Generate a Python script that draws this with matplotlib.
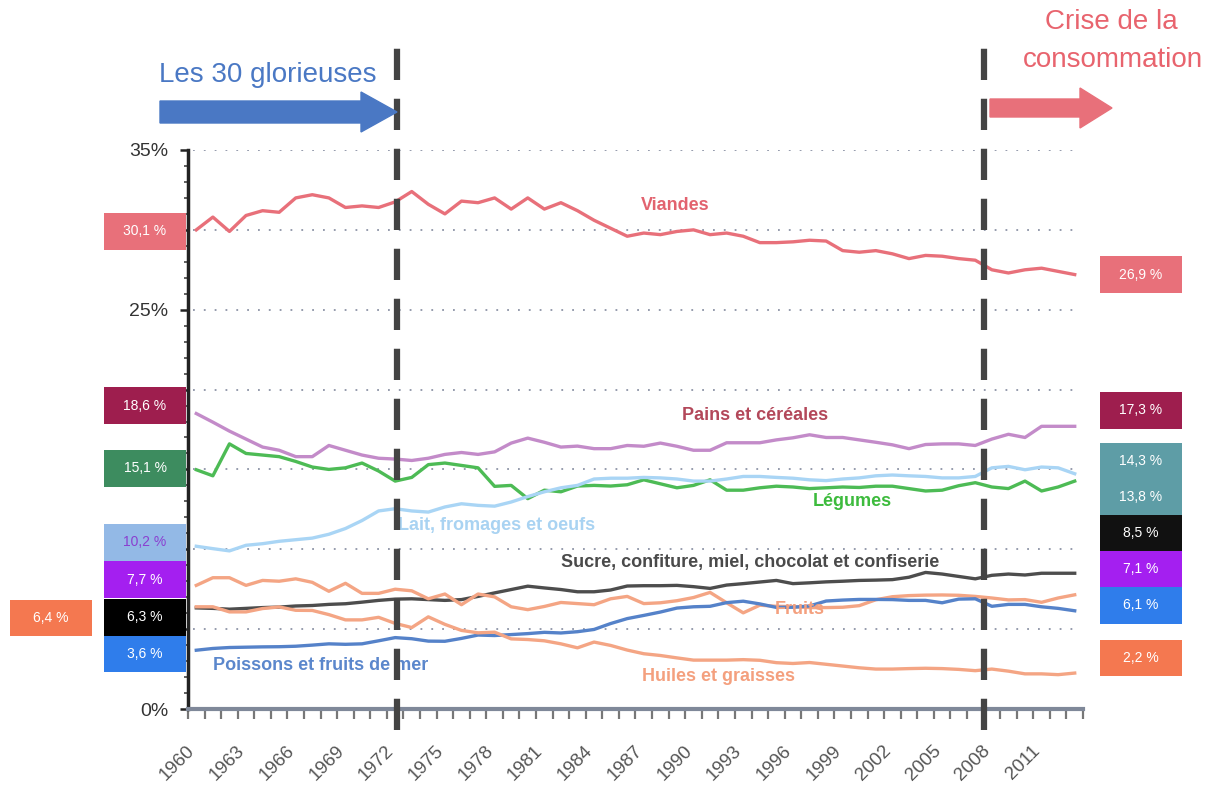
import numpy as np
import matplotlib
matplotlib.use('Agg')
import matplotlib.pyplot as plt
import matplotlib.transforms as mtransforms
from matplotlib.patches import Rectangle, FancyArrow

plt.rcParams['font.family'] = ['Liberation Sans', 'DejaVu Sans']

# --- data (share of food budget, %) ---
years = list(range(1960, 2014))

viandes = [30.0, 30.8, 29.9, 30.9, 31.2, 31.1, 32.0, 32.2, 32.0, 31.4,
           31.5, 31.4, 31.75, 32.4, 31.6, 31.0, 31.8, 31.7, 32.0, 31.3,
           32.0, 31.3, 31.7, 31.2, 30.6, 30.1, 29.6, 29.8, 29.7, 29.9,
           30.0, 29.7, 29.8, 29.6, 29.2, 29.2, 29.25, 29.35, 29.3, 28.7,
           28.6, 28.7, 28.5, 28.2, 28.4, 28.35, 28.2, 28.1, 27.5, 27.3,
           27.5, 27.6, 27.4, 27.2]
pains = [18.5, 17.96, 17.4, 16.9, 16.4, 16.2, 15.8, 15.8, 16.5, 16.2,
         15.9, 15.7, 15.65, 15.56, 15.7, 15.94, 16.06, 15.94, 16.1, 16.65,
         16.96, 16.7, 16.4, 16.46, 16.3, 16.3, 16.5, 16.45, 16.65, 16.45,
         16.2, 16.2, 16.67, 16.67, 16.67, 16.85, 16.98, 17.17, 17.0, 17.0,
         16.85, 16.7, 16.54, 16.3, 16.56, 16.6, 16.6, 16.5, 16.9, 17.2,
         17.0, 17.7, 17.7, 17.7]
legumes = [14.98, 14.6, 16.6, 16.0, 15.9, 15.8, 15.5, 15.15, 15.0, 15.1,
           15.4, 14.9, 14.27, 14.5, 15.3, 15.4, 15.25, 15.1, 13.94, 14.0,
           13.17, 13.7, 13.6, 13.96, 14.0, 13.96, 14.04, 14.35, 14.1, 13.85,
           14.0, 14.35, 13.7, 13.7, 13.85, 13.95, 13.9, 13.8, 13.85, 13.9,
           13.87, 13.95, 13.95, 13.8, 13.65, 13.7, 13.98, 14.17, 13.9, 13.8,
           14.27, 13.65, 13.9, 14.27]
lait = [10.19, 10.04, 9.9, 10.25, 10.35, 10.5, 10.6, 10.7, 10.94, 11.3,
        11.8, 12.4, 12.54, 12.4, 12.33, 12.65, 12.85, 12.75, 12.7, 12.96,
        13.3, 13.6, 13.85, 14.0, 14.4, 14.45, 14.45, 14.5, 14.47, 14.4,
        14.27, 14.27, 14.4, 14.56, 14.56, 14.5, 14.45, 14.35, 14.3, 14.4,
        14.47, 14.6, 14.65, 14.6, 14.56, 14.47, 14.47, 14.56, 15.1, 15.19,
        14.98, 15.15, 15.1, 14.73]
sucre = [6.33, 6.3, 6.25, 6.3, 6.35, 6.38, 6.45, 6.48, 6.55, 6.59,
         6.69, 6.8, 6.88, 6.9, 6.85, 6.8, 6.85, 7.05, 7.27, 7.48,
         7.69, 7.58, 7.48, 7.34, 7.34, 7.45, 7.7, 7.72, 7.72, 7.74,
         7.66, 7.55, 7.76, 7.85, 7.95, 8.05, 7.85, 7.9, 7.96, 8.0,
         8.05, 8.07, 8.1, 8.25, 8.55, 8.45, 8.3, 8.15, 8.37, 8.45,
         8.39, 8.5, 8.5, 8.5]
fruits = [7.74, 8.22, 8.22, 7.74, 8.05, 8.0, 8.15, 7.93, 7.37, 7.87,
          7.24, 7.24, 7.5, 7.4, 6.9, 7.2, 6.53, 7.2, 7.02, 6.4,
          6.22, 6.42, 6.67, 6.6, 6.53, 6.9, 7.05, 6.6, 6.65, 6.78,
          6.98, 7.3, 6.65, 6.02, 6.5, 6.43, 6.41, 6.35, 6.35, 6.37,
          6.47, 6.84, 7.03, 7.1, 7.13, 7.14, 7.12, 7.05, 6.95, 6.83,
          6.85, 6.68, 6.95, 7.15]
poissons = [3.68, 3.79, 3.85, 3.87, 3.89, 3.9, 3.93, 4.0, 4.08, 4.05,
            4.08, 4.27, 4.47, 4.4, 4.25, 4.24, 4.42, 4.63, 4.6, 4.66,
            4.72, 4.8, 4.76, 4.84, 4.98, 5.35, 5.66, 5.86, 6.07, 6.32,
            6.4, 6.43, 6.66, 6.75, 6.58, 6.36, 6.37, 6.45, 6.76, 6.82,
            6.86, 6.86, 6.85, 6.8, 6.8, 6.65, 6.88, 6.9, 6.43, 6.55,
            6.55, 6.4, 6.3, 6.15]
huiles = [6.4, 6.4, 6.08, 6.08, 6.29, 6.39, 6.18, 6.17, 5.91, 5.58,
          5.58, 5.74, 5.36, 5.1, 5.77, 5.3, 4.92, 4.77, 4.81, 4.39,
          4.35, 4.27, 4.08, 3.83, 4.19, 3.98, 3.69, 3.46, 3.35, 3.2,
          3.06, 3.06, 3.06, 3.09, 3.05, 2.9, 2.85, 2.91, 2.8, 2.69,
          2.58, 2.5, 2.5, 2.53, 2.55, 2.53, 2.48, 2.4, 2.5, 2.37,
          2.2, 2.2, 2.15, 2.25]

series_names = ['Viandes', 'Pains et céréales', 'Légumes', 'Lait, fromages et oeufs',
                'Sucre, confiture, miel, chocolat et confiserie', 'Fruits',
                'Poissons et fruits de mer', 'Huiles et graisses']
series_values = [viandes, pains, legumes, lait, sucre, fruits, poissons, huiles]
line_colors = ['#E8707A', '#C38BC9', '#4DBB55', '#A9D5F5', '#4D4D4D', '#F4A584', '#5582C9', '#F4A584']
label_colors = ['#E2636F', '#B3485A', '#3DBB3D', '#A9D3F2', '#4A4A4A', '#F4A07E', '#5B87CC', '#F4A07E']
label_pos = [(1988.9, 31.5), (1993.7, 18.4), (1999.6, 13.0), (1978.1, 11.5),
             (1993.4, 9.2), (1996.4, 6.2), (1967.5, 2.75), (1991.5, 2.06)]

start_labels = ['30,1 %', '18,6 %', '15,1 %', '10,2 %', '7,7 %', '6,3 %', '6,4 %', '3,6 %']
start_pos = [29.9, 19.0, 15.06, 10.44, 8.1, 5.75, 5.7, 3.44]
start_xpx = [104, 104, 104, 104, 104, 104, 10, 104]
start_colors = ['#E8707A', '#9E1E4E', '#3D8C5F', '#93B9E6', '#A41FF0', '#000000', '#F47850', '#2F7DEB']
start_text = ['white', 'white', 'white', '#8A3FD0', 'white', 'white', 'white', 'white']

end_labels = ['26,9 %', '17,3 %', '14,3 %', '13,8 %', '8,5 %', '7,1 %', '6,1 %', '2,2 %']
end_pos = [27.2, 18.7, 15.5, 13.25, 11.0, 8.75, 6.5, 3.2]
end_colors = ['#E8707A', '#9E1E4E', '#5E9DA6', '#5E9DA6', '#111111', '#A41FF0', '#2F7DEB', '#F47850']

W, H = 1222, 785
fig = plt.figure(figsize=(W / 100, H / 100), dpi=100)
fig.patch.set_facecolor('white')
ax = fig.add_axes([188 / W, 76 / H, 895 / W, 559 / H])
ax.set_xlim(1959.5, 2013.5)
ax.set_ylim(0, 35)

# dotted grid
for g in range(5, 40, 5):
	ax.plot([1959.8, 2013.3], [g, g], color='#8C93A6', lw=1.3, ls=(0, (1, 5)), zorder=1)

for vals, c in zip(series_values, line_colors):
	ax.plot(years, vals, color=c, lw=2.4, zorder=3, solid_joinstyle='round')

for name, (lx, ly), c in zip(series_names, label_pos, label_colors):
	ax.text(lx, ly, name, color=c, fontsize=13, fontweight='bold', ha='center', va='center', zorder=4)

# axes styling
for s in ['top', 'right']:
	ax.spines[s].set_visible(False)
ax.spines['left'].set_linewidth(2.5)
ax.spines['left'].set_color('#222222')
ax.spines['bottom'].set_linewidth(3)
ax.spines['bottom'].set_color('#7F8899')

ax.set_yticks(range(0, 40, 5))
ax.set_yticklabels(['0%', '', '', '', '', '25%', '', '35%'])
ax.set_yticks(range(0, 36), minor=True)
ax.tick_params(axis='y', which='major', length=6, width=1.8, color='#222222', labelsize=14, labelcolor='#333333', pad=8)
ax.tick_params(axis='y', which='minor', length=3, width=1.2, color='#444444')

xt = years[::3][:18]
ax.set_xticks(xt)
ax.set_xticklabels([str(y) for y in xt], rotation=45, ha='right', rotation_mode='anchor')
ax.set_xticks(np.arange(1959.5, 2014, 1), minor=True)
ax.tick_params(axis='x', which='major', length=0, labelsize=13.5, labelcolor='#555555', pad=24)
ax.tick_params(axis='x', which='minor', length=7, width=1.6, color='#777777')
shift = mtransforms.ScaledTranslation(-10 / 100, 0, fig.dpi_scale_trans)
for lab in ax.get_xticklabels():
	lab.set_transform(lab.get_transform() + shift)

# vertical dashed period markers
for xv in [1972.1, 2007.5]:
	ax.plot([xv, xv], [-1.3, 41.5], color='#444444', lw=4.5, ls=(0, (5, 3)), clip_on=False, zorder=5)

# value boxes
bt = mtransforms.blended_transform_factory(ax.transAxes, ax.transData)
bw = 82 / 895
bh = 2.3
for txt, yv, xp, fc, tc in zip(start_labels, start_pos, start_xpx, start_colors, start_text):
	x0 = (xp - 188) / 895
	ax.add_patch(Rectangle((x0, yv - bh / 2), bw, bh, transform=bt, facecolor=fc,
		edgecolor='none', clip_on=False, zorder=6))
	ax.text(x0 + bw / 2, yv, txt, transform=bt, color=tc, fontsize=10, ha='center', va='center',
		clip_on=False, zorder=7)
for txt, yv, fc in zip(end_labels, end_pos, end_colors):
	x0 = (1100 - 188) / 895
	ax.add_patch(Rectangle((x0, yv - bh / 2), bw, bh, transform=bt, facecolor=fc,
		edgecolor='none', clip_on=False, zorder=6))
	ax.text(x0 + bw / 2, yv, txt, transform=bt, color='white', fontsize=10, ha='center', va='center',
		clip_on=False, zorder=7)

# period annotations
def fx(p):
	return p / W

def fy(p):
	return 1 - p / H

fig.text(fx(268), fy(75), 'Les 30 glorieuses', color='#4A78C4', fontsize=20, ha='center', va='center')
fig.add_artist(FancyArrow(fx(160), fy(112), fx(237), 0, width=22 / H, head_width=40 / H,
	head_length=fx(36), length_includes_head=True, color='#4A78C4', transform=fig.transFigure))
fig.text(fx(1111), fy(22), 'Crise de la', color='#E8646E', fontsize=20, ha='center', va='center')
fig.text(fx(1113), fy(60), 'consommation', color='#E8646E', fontsize=20, ha='center', va='center')
fig.add_artist(FancyArrow(fx(990), fy(108), fx(122), 0, width=18 / H, head_width=40 / H,
	head_length=fx(32), length_includes_head=True, color='#E8707A', transform=fig.transFigure))

plt.savefig('out.png', dpi=100)
